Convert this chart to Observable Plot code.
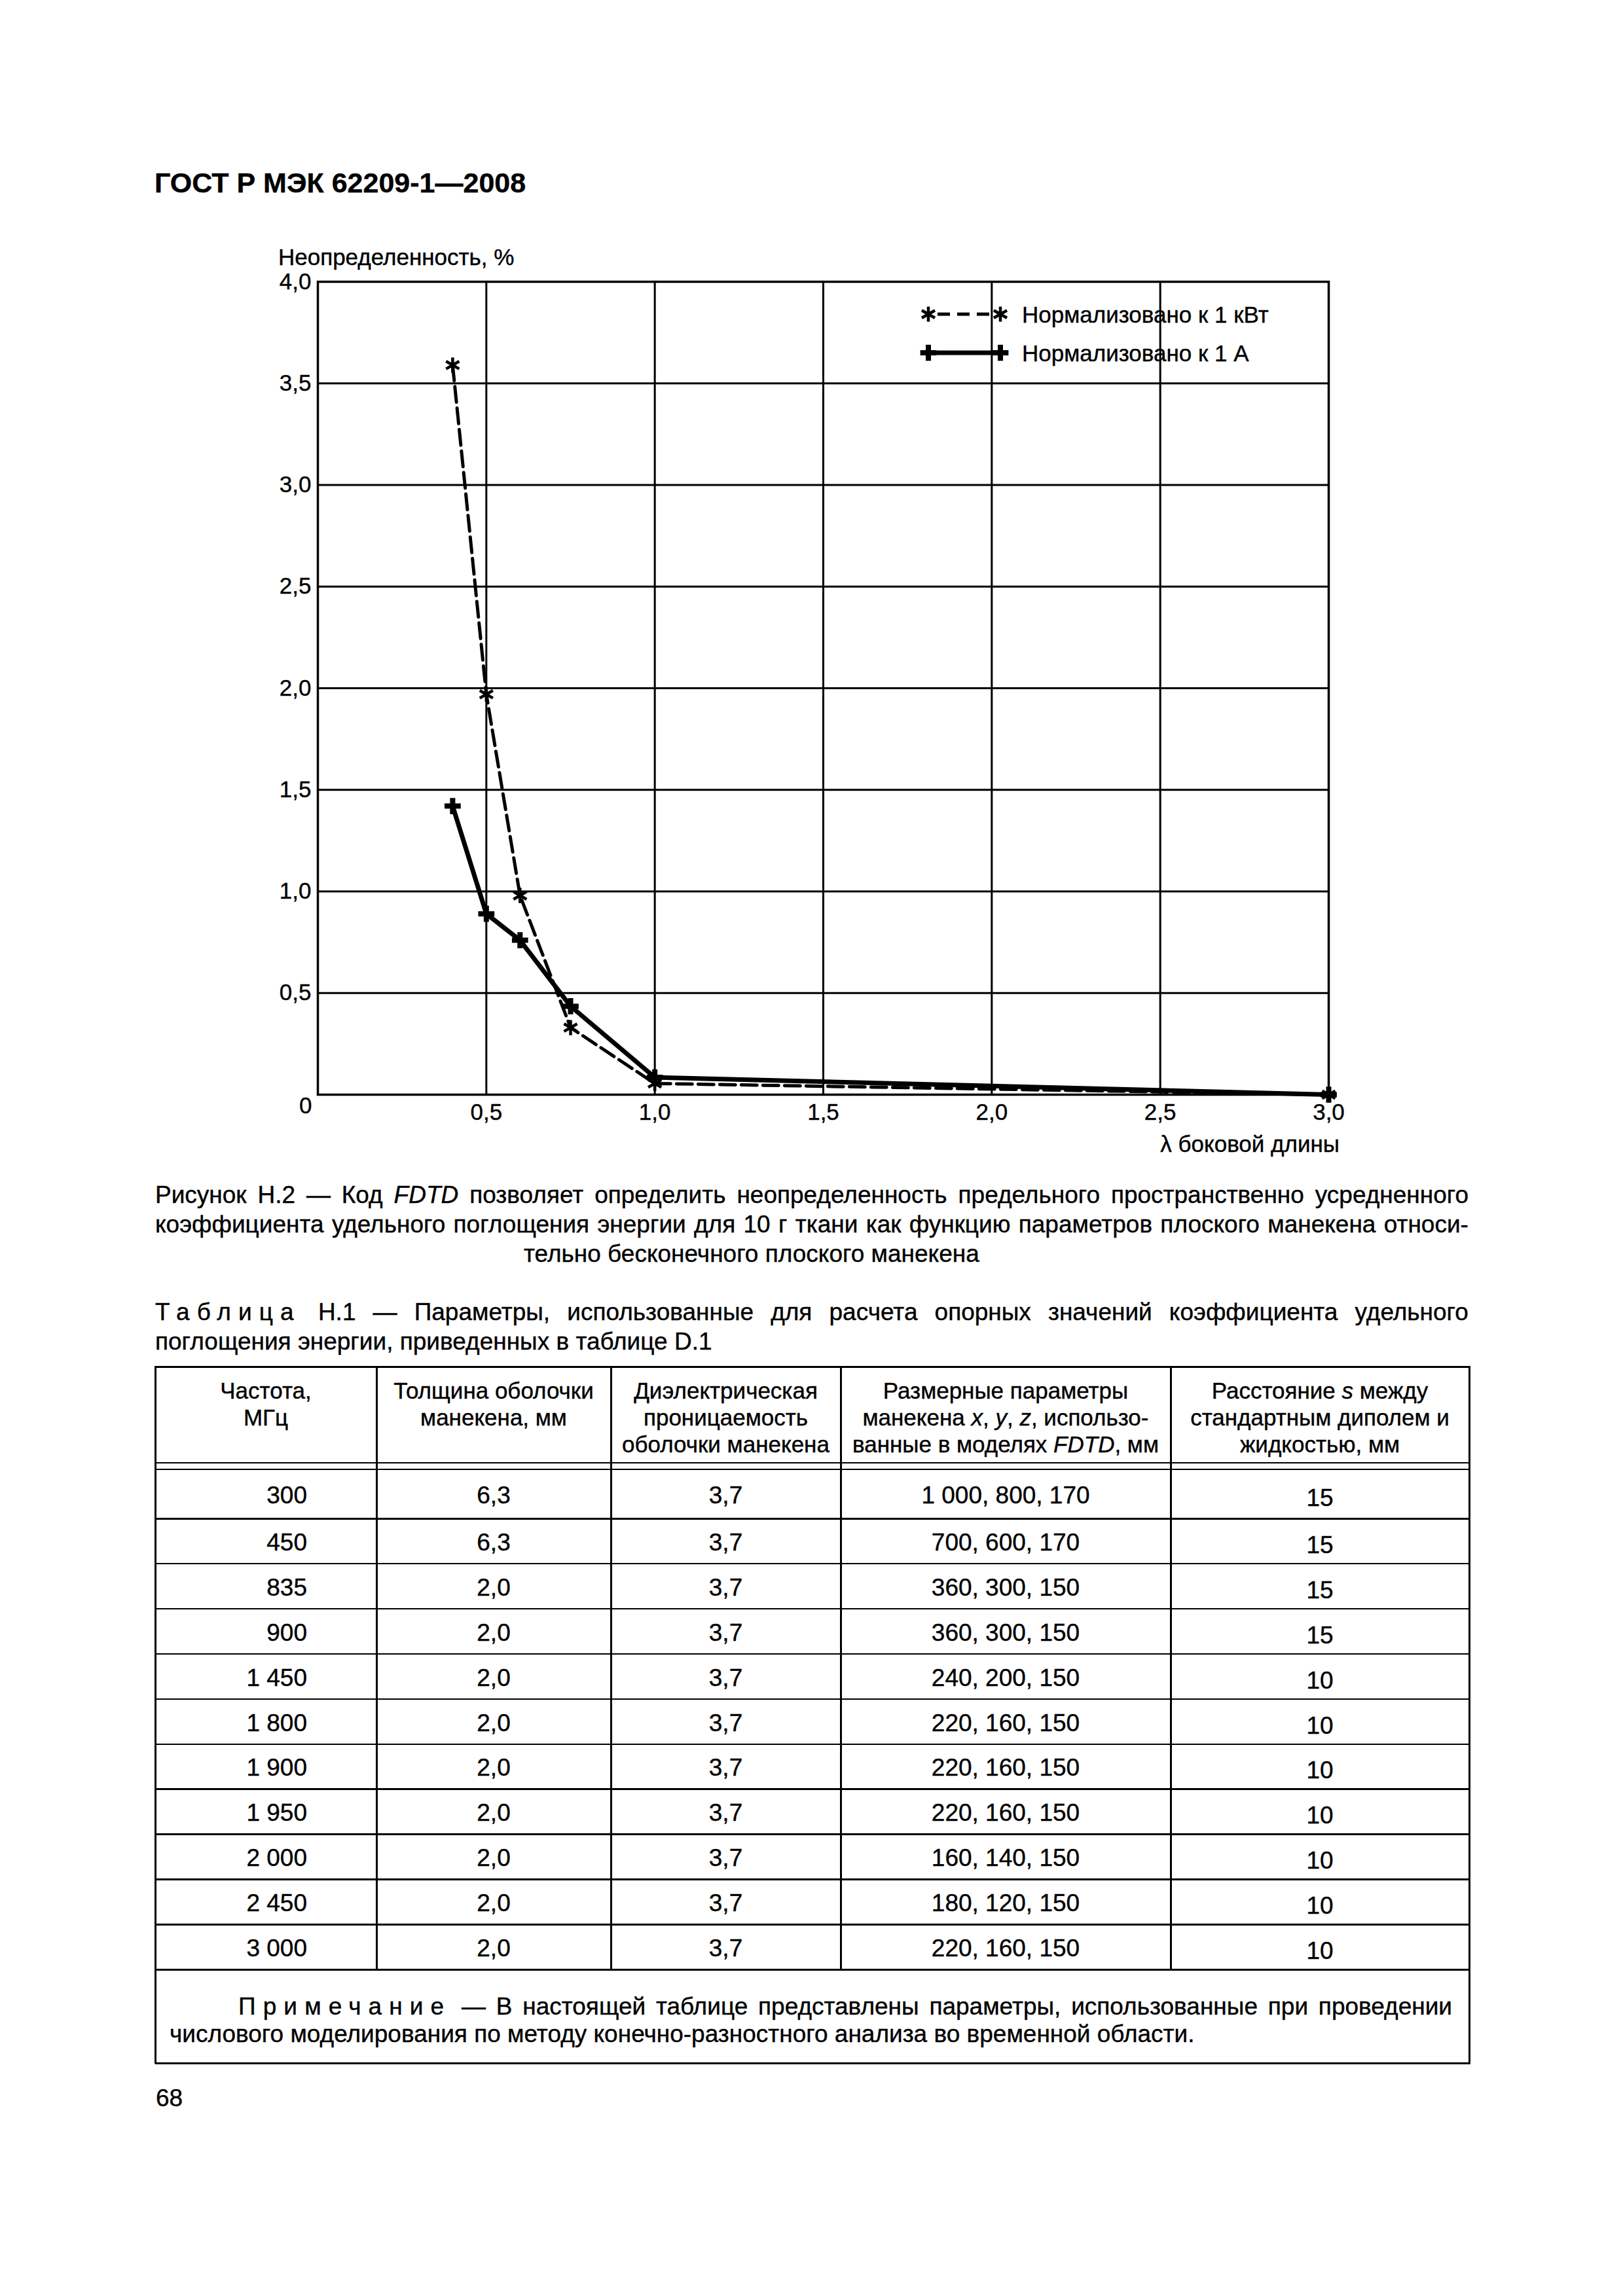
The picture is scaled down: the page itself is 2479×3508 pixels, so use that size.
<!DOCTYPE html>
<html>
<head>
<meta charset="utf-8">
<script src="https://cdn.jsdelivr.net/npm/d3@7"></script>
<script src="https://cdn.jsdelivr.net/npm/@observablehq/plot@0.6"></script>
<style>
html, body { margin: 0; padding: 0; background: #fff; }
#page { position: relative; width: 2479px; height: 3508px; overflow: hidden; background: #fff;
  font-family: "Liberation Sans", Arial, sans-serif; color: #000; }
.abs { position: absolute; white-space: nowrap; line-height: 1; -webkit-text-stroke: 0.4px #000; }
.jl { display: flex; justify-content: space-between; white-space: nowrap; }
.ln { position: absolute; background: #000; }
.cell { position: absolute; display: flex; align-items: center; justify-content: center; box-sizing: border-box;
  white-space: nowrap; line-height: 1; -webkit-text-stroke: 0.4px #000; }
.hcell { position: absolute; box-sizing: border-box; text-align: center; white-space: nowrap;
  font-size: 35px; line-height: 41px; -webkit-text-stroke: 0.4px #000; }
.sp1 { letter-spacing: 0.3em; }
#page svg text { stroke: #000; stroke-width: 0.4px; }
</style>
</head>
<body>
<div id="page"></div>
<script>
// ---------------- chart data ----------------
const xValues   = [0.4, 0.5, 0.6, 0.75, 1.0, 3.0];          // λ боковой длины
const kWValues  = [3.59, 1.97, 0.98, 0.33, 0.055, 0.0];     // Нормализовано к 1 кВт
const ampValues = [1.42, 0.89, 0.76, 0.435, 0.085, 0.0];    // Нормализовано к 1 А
const seriesNames = ["Нормализовано к 1 кВт", "Нормализовано к 1 А"];
const xTicks = [0.5, 1.0, 1.5, 2.0, 2.5, 3.0];
const yTicks = [0.5, 1.0, 1.5, 2.0, 2.5, 3.0, 3.5, 4.0];
const yZeroTick = [0];
const yLabel = "Неопределенность, %";
const xLabel = "λ боковой длины";
const pageTitle = "ГОСТ Р МЭК 62209-1—2008";

// ---------------- text / table data ----------------
const captionLine1 = ["Рисунок", "Н.2", "—", "Код", "<i>FDTD</i>", "позволяет", "определить", "неопределенность", "предельного", "пространственно", "усредненного"];
const captionLine2 = ["коэффициента", "удельного", "поглощения", "энергии", "для", "10", "г", "ткани", "как", "функцию", "параметров", "плоского", "манекена", "относи-"];
const captionLine3 = "тельно бесконечного плоского манекена";
const tableTitle1 = ["<span class='sp1'>Таблица</span>", "Н.1", "—", "Параметры,", "использованные", "для", "расчета", "опорных", "значений", "коэффициента", "удельного"];
const tableTitle2 = "поглощения энергии, приведенных в таблице D.1";
const headers = [
  "Частота,<br>МГц",
  "Толщина оболочки<br>манекена, мм",
  "Диэлектрическая<br>проницаемость<br>оболочки манекена",
  "Размерные параметры<br>манекена <i>x</i>, <i>y</i>, <i>z</i>, использо-<br>ванные в моделях <i>FDTD</i>, мм",
  "Расстояние <i>s</i> между<br>стандартным диполем и<br>жидкостью, мм"
];
const freq = ["300", "450", "835", "900", "1 450", "1 800", "1 900", "1 950", "2 000", "2 450", "3 000"];
const thickness = ["6,3", "6,3", "2,0", "2,0", "2,0", "2,0", "2,0", "2,0", "2,0", "2,0", "2,0"];
const permittivity = ["3,7", "3,7", "3,7", "3,7", "3,7", "3,7", "3,7", "3,7", "3,7", "3,7", "3,7"];
const dims = ["1 000, 800, 170", "700, 600, 170", "360, 300, 150", "360, 300, 150", "240, 200, 150", "220, 160, 150", "220, 160, 150", "220, 160, 150", "160, 140, 150", "180, 120, 150", "220, 160, 150"];
const distance = ["15", "15", "15", "15", "10", "10", "10", "10", "10", "10", "10"];
const noteLine1 = ["<span class='sp1'>Примечание</span>", "—", "В", "настоящей", "таблице", "представлены", "параметры,", "использованные", "при", "проведении"];
const noteLine2 = "числового моделирования по методу конечно-разностного анализа во временной области.";
const pageNumber = "68";

// ---------------- helpers ----------------
const page = document.getElementById("page");
function place(html, o) {
  const d = document.createElement("div");
  d.className = "abs";
  d.innerHTML = html;
  const f = o.size;
  d.style.fontSize = f + "px";
  if (o.bold) d.style.fontWeight = "bold";
  d.style.top = (o.cy - 0.4885 * f) + "px";
  if (o.left != null) d.style.left = o.left + "px";
  if (o.right != null) d.style.right = o.right + "px";
  if (o.width != null) d.style.width = o.width + "px";
  page.appendChild(d);
  return d;
}
const jline = words => `<div class="jl">${words.map(w => `<span>${w}</span>`).join("")}</div>`;
const nb = s => s.replace(/ /g, "\u00a0");
function line(x, y, w, h) {
  const d = document.createElement("div");
  d.className = "ln";
  d.style.left = x + "px"; d.style.top = y + "px";
  d.style.width = w + "px"; d.style.height = h + "px";
  page.appendChild(d);
}

// ---------------- header ----------------
place(pageTitle, {left: 236, cy: 279, size: 43, bold: true});
place(yLabel, {left: 425, cy: 392, size: 35});

// ---------------- chart ----------------
const fmt = d => d.toFixed(1).replace(".", ",");
const kW = xValues.map((x, i) => ({x, y: kWValues[i]}));
const amp = xValues.map((x, i) => ({x, y: ampValues[i]}));

const svgTop = 400;
const chart = Plot.plot({
  width: 2479,
  height: 1330,
  marginLeft: 485,
  marginRight: 450,
  marginTop: 30,
  marginBottom: 58,
  x: {domain: [0, 3]},
  y: {domain: [0, 4]},
  style: {fontFamily: "'Liberation Sans', Arial, sans-serif", fontSize: "35px", color: "#000", background: "transparent", overflow: "visible"},
  marks: [
    Plot.gridX(xTicks, {stroke: "#000", strokeOpacity: 1, strokeWidth: 3}),
    Plot.gridY(yTicks, {stroke: "#000", strokeOpacity: 1, strokeWidth: 3}),
    Plot.frame({stroke: "#000", strokeWidth: 3.5}),
    Plot.axisX(xTicks, {tickSize: 0, tickPadding: 14, tickFormat: fmt, label: null}),
    Plot.axisY(yTicks, {tickSize: 0, tickPadding: 10, tickFormat: fmt, label: null}),
    Plot.axisY(yZeroTick, {tickSize: 0, tickPadding: 9, tickFormat: d => String(d), dy: 17, label: null}),
    Plot.line(amp, {x: "x", y: "y", stroke: "#000", strokeWidth: 7}),
    Plot.line(kW, {x: "x", y: "y", stroke: "#000", strokeWidth: 5, strokeDasharray: "24,9"}),
    Plot.dot(amp, {x: "x", y: "y", symbol: "plus", r: 8, stroke: "#000", strokeWidth: 8}),
    Plot.dot(kW, {x: "x", y: "y", symbol: "asterisk", r: 11, stroke: "#000", strokeWidth: 4.5})
  ]
});
chart.style.position = "absolute";
chart.style.left = "0px";
chart.style.top = svgTop + "px";
page.appendChild(chart);

place(xLabel, {right: 2479 - 2046, cy: 1747, size: 35});

// ---------------- legend (overlay) ----------------
const starPath = d3.symbol(d3.symbolAsterisk, Math.PI * 121)();
const plusPath = d3.symbol(d3.symbolPlus, Math.PI * 64)();
const legendRows = [
  {name: seriesNames[0], cy: 480,
   swatch: `<line x1="14" y1="20" x2="98" y2="20" stroke="#000" stroke-width="5" stroke-dasharray="19,11"/>
            <path d="${starPath}" transform="translate(0,20)" fill="none" stroke="#000" stroke-width="4.5"/>
            <path d="${starPath}" transform="translate(110,20)" fill="none" stroke="#000" stroke-width="4.5"/>`},
  {name: seriesNames[1], cy: 539,
   swatch: `<line x1="0" y1="20" x2="110" y2="20" stroke="#000" stroke-width="7"/>
            <path d="${plusPath}" transform="translate(0,20)" fill="none" stroke="#000" stroke-width="8"/>
            <path d="${plusPath}" transform="translate(110,20)" fill="none" stroke="#000" stroke-width="8"/>`}
];
legendRows.forEach(r => {
  const s = document.createElementNS("http://www.w3.org/2000/svg", "svg");
  s.setAttribute("width", 150); s.setAttribute("height", 40);
  s.setAttribute("viewBox", "-20 0 150 40");
  s.style.position = "absolute";
  s.style.left = (1418 - 20) + "px";
  s.style.top = (r.cy - 20) + "px";
  s.style.overflow = "visible";
  s.innerHTML = r.swatch;
  page.appendChild(s);
  place(r.name, {left: 1561, cy: r.cy, size: 35});
});

// ---------------- caption ----------------
place(jline(captionLine1), {left: 237, width: 2006, cy: 1825, size: 37});
place(jline(captionLine2), {left: 237, width: 2006, cy: 1870, size: 37});
place(captionLine3, {left: 800, cy: 1915, size: 37});

// ---------------- table title ----------------
place(jline(tableTitle1), {left: 237, width: 2006, cy: 2004, size: 37});
place(tableTitle2, {left: 237, cy: 2049, size: 37});

// ---------------- table (drawn with positioned lines and cells) ----------------
const colX = [237, 575, 933, 1284, 1788, 2244];
const tableTop = 2088, headBottom = 2235, spacerBottom = 2245;
const rowBounds = [spacerBottom];
const firstRowBottom = 2320, rowStep = 68.9;
for (let i = 0; i < freq.length; i++) rowBounds.push(firstRowBottom + i * rowStep);
const dataBottom = rowBounds[rowBounds.length - 1];
const noteBottom = 3152;
const tableW = colX[colX.length - 1] - colX[0];

// horizontal lines
line(colX[0], tableTop - 1, tableW + 2, 3);
line(colX[0], headBottom - 1, tableW + 2, 2);
line(colX[0], spacerBottom - 1, tableW + 2, 2);
rowBounds.slice(1).forEach(y => line(colX[0], y - 1, tableW + 2, 2.5));
line(colX[0], noteBottom - 1, tableW + 2, 3);
// vertical lines
colX.forEach((x, j) => {
  const outer = j === 0 || j === colX.length - 1;
  line(x - 1, tableTop - 1, 2.5, (outer ? noteBottom : dataBottom) - tableTop + 2);
});

// header cells
headers.forEach((h, j) => {
  const d = document.createElement("div");
  d.className = "hcell";
  d.style.left = colX[j] + "px";
  d.style.width = (colX[j + 1] - colX[j]) + "px";
  d.style.top = (tableTop + 16) + "px";
  d.innerHTML = h;
  page.appendChild(d);
});

// data cells
const columns = [freq, thickness, permittivity, dims, distance];
freq.forEach((_, i) => {
  const y0 = rowBounds[i], y1 = rowBounds[i + 1];
  columns.forEach((col, j) => {
    const d = document.createElement("div");
    d.className = "cell";
    d.style.left = colX[j] + "px";
    d.style.width = (colX[j + 1] - colX[j]) + "px";
    d.style.top = (y0 + (j === 4 ? 6 : 2)) + "px";
    d.style.height = (y1 - y0) + "px";
    d.style.fontSize = "37px";
    if (j === 0) { d.style.justifyContent = "flex-end"; d.style.paddingRight = "106px"; }
    d.textContent = nb(col[i]);
    page.appendChild(d);
  });
});

// note
place(jline(noteLine1), {left: 237 + 22 + 105, width: tableW - 22 - 26 - 105, cy: 3065, size: 37});
place(noteLine2, {left: 259, cy: 3107, size: 37});

// ---------------- page number ----------------
place(pageNumber, {left: 238, cy: 3205, size: 37});
</script>
</body>
</html>
